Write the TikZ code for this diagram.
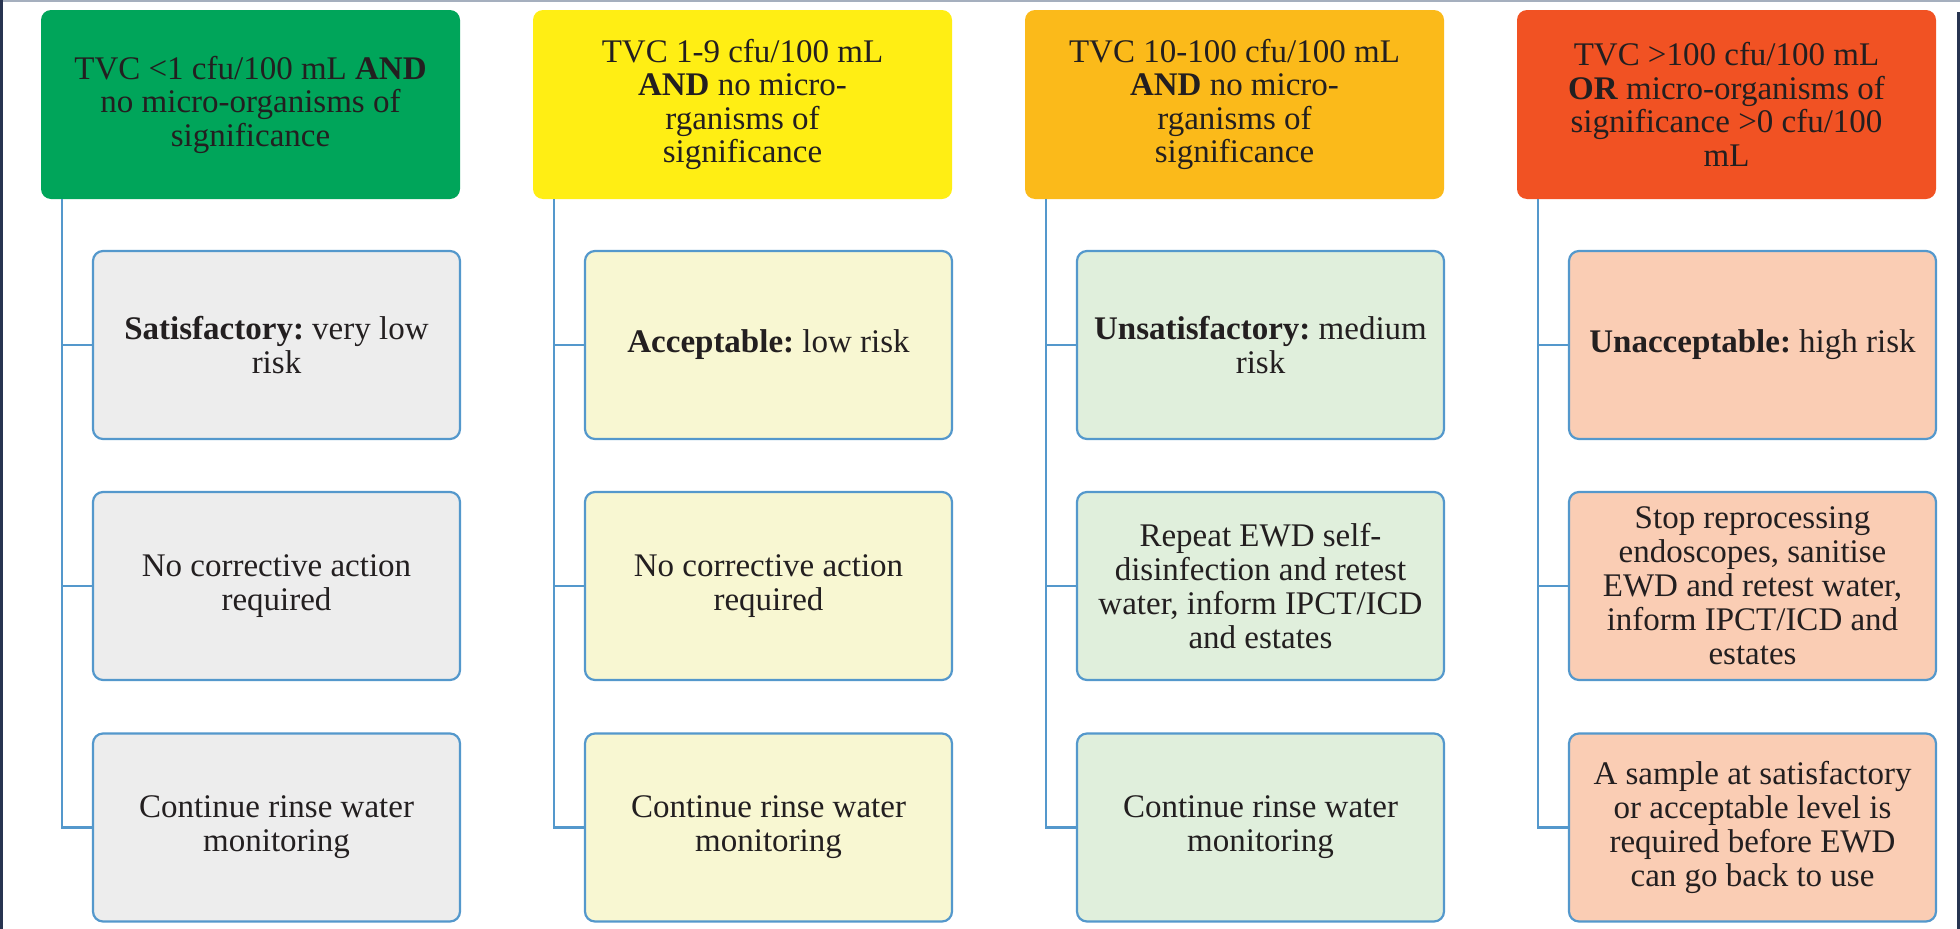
\documentclass[tikz,border=0pt]{standalone}
\usepackage{fontspec}
\setmainfont{Liberation Serif}
\frenchspacing
\definecolor{hgreen}{RGB}{0,165,90}
\definecolor{hyellow}{RGB}{255,238,20}
\definecolor{horange}{RGB}{251,186,26}
\definecolor{hred}{RGB}{241,82,35}
\definecolor{cgray}{RGB}{237,237,237}
\definecolor{cyellow}{RGB}{248,247,210}
\definecolor{cgreen}{RGB}{224,239,220}
\definecolor{cpeach}{RGB}{250,205,180}
\definecolor{lblue}{RGB}{84,152,204}
\definecolor{txt}{RGB}{35,31,32}
\definecolor{framenavy}{RGB}{40,52,80}
\definecolor{framegray}{RGB}{165,175,190}
\tikzset{
  hdr/.style={rectangle, rounded corners=10pt, minimum width=419pt, minimum height=189pt,
    inner sep=0pt, align=center, text=txt, font=\fontsize{33}{33.5}\selectfont\frenchspacing},
  child/.style={rectangle, rounded corners=10pt, draw=lblue, line width=2.2pt,
    minimum width=367pt, minimum height=188pt, inner sep=0pt, align=center, text=txt,
    font=\fontsize{33}{34}\selectfont\frenchspacing},
  conn/.style={draw=lblue, line width=2.2pt},
}
\begin{document}
\begin{tikzpicture}[x=1pt,y=-1pt]
\useasboundingbox (0,0) rectangle (1960,929);
\fill[white] (0,0) rectangle (1960,929);
% frame
\draw[framegray, line width=2pt] (0,1) -- (1960,1);
\draw[framenavy, line width=3pt] (1.5,0) -- (1.5,929);
\draw[framenavy, line width=2.5pt] (1958.7,12) -- (1958.7,929);

% headers
\node[hdr, fill=hgreen] (h1) at (250.5,104.5) {TVC <1 cfu/100 mL \textbf{AND}\\no micro-organisms of\\significance};
\node[hdr, fill=hyellow] (h2) at (742.5,104.5) {TVC 1-9 cfu/100 mL\\\textbf{AND} no micro-\\rganisms of\\significance};
\node[hdr, fill=horange] (h3) at (1234.5,104.5) {TVC 10-100 cfu/100 mL\\\textbf{AND} no micro-\\rganisms of\\significance};
\node[hdr, fill=hred] (h4) at (1726.5,104.5) {TVC >100 cfu/100 mL\\\textbf{OR} micro-organisms of\\significance >0 cfu/100\\mL};

% column 1
\node[child, fill=cgray] (c11) at (276.5,345) {\textbf{Satisfactory:} very low\\risk};
\node[child, fill=cgray] (c12) at (276.5,586) {No corrective action\\required};
\node[child, fill=cgray] (c13) at (276.5,827.5) {Continue rinse water\\monitoring};
% column 2
\node[child, fill=cyellow] (c21) at (768.5,345) {\textbf{Acceptable:} low risk};
\node[child, fill=cyellow] (c22) at (768.5,586) {No corrective action\\required};
\node[child, fill=cyellow] (c23) at (768.5,827.5) {Continue rinse water\\monitoring};
% column 3
\node[child, fill=cgreen] (c31) at (1260.5,345) {\textbf{Unsatisfactory:} medium\\risk};
\node[child, fill=cgreen] (c32) at (1260.5,586) {Repeat EWD self-\\disinfection and retest\\water, inform IPCT/ICD\\and estates};
\node[child, fill=cgreen] (c33) at (1260.5,827.5) {Continue rinse water\\monitoring};
% column 4
\node[child, fill=cpeach] (c41) at (1752.5,345) {\textbf{Unacceptable:} high risk};
\node[child, fill=cpeach] (c42) at (1752.5,586) {Stop reprocessing\\endoscopes, sanitise\\EWD and retest water,\\inform IPCT/ICD and\\estates};
\node[child, fill=cpeach] (c43) at (1752.5,827.5) {A sample at satisfactory\\or acceptable level is\\required before EWD\\can go back to use};

% trunks
\foreach \i/\x in {1/62,2/554,3/1046,4/1538}{
  \coordinate (t\i) at (\x,199);
  \draw[conn] (t\i) |- (c\i1.west);
  \draw[conn] (t\i) |- (c\i2.west);
  \draw[conn] (t\i) |- (c\i3.west);
}
\end{tikzpicture}
\end{document}
